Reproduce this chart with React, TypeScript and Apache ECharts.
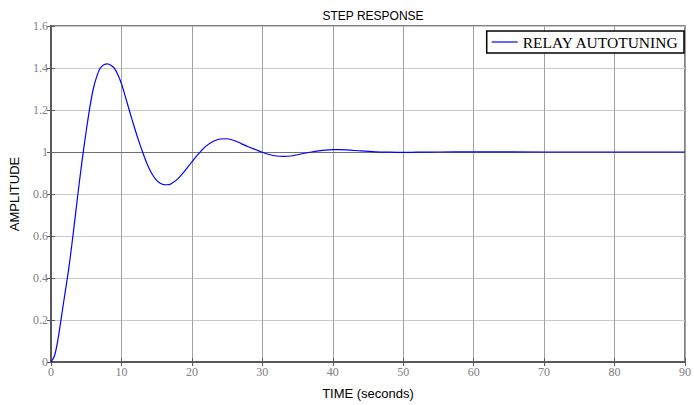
import React, { useEffect, useRef } from "react";
import * as echarts from "echarts";

const timeValues = [0, 0.5, 1, 1.5, 2, 2.5, 3, 3.5, 4, 4.5, 5, 5.5, 6, 6.5, 7, 7.5, 8, 8.5, 9, 9.5, 10, 10.5, 11, 11.5, 12, 12.5, 13, 13.5, 14, 14.5, 15, 15.5, 16, 16.5, 17, 18, 19, 20, 21, 22, 23, 24, 25, 26, 27, 28, 29, 30, 31, 32, 33, 34, 35, 36, 37, 38, 39, 40, 41, 42, 44, 46, 48, 50, 52, 55, 60, 70, 80, 90];
const amplitudeValues = [0, 0.03, 0.11, 0.22, 0.33, 0.44, 0.57, 0.71, 0.85, 0.98, 1.1, 1.21, 1.3, 1.36, 1.4, 1.415, 1.42, 1.413, 1.398, 1.368, 1.325, 1.27, 1.212, 1.155, 1.1, 1.048, 1.0, 0.955, 0.917, 0.887, 0.865, 0.851, 0.845, 0.844, 0.848, 0.872, 0.91, 0.953, 0.993, 1.028, 1.05, 1.062, 1.063, 1.055, 1.04, 1.025, 1.012, 0.999, 0.988, 0.981, 0.979, 0.981, 0.987, 0.994, 1.0, 1.005, 1.009, 1.011, 1.011, 1.01, 1.005, 1.001, 0.999, 0.998, 0.999, 1.0, 1.001, 1.0, 1.0, 1.0];
const seriesName = "RELAY AUTOTUNING";
const titleText = "STEP RESPONSE";
const xAxisName = "TIME (seconds)";
const yAxisName = "AMPLITUDE";
const referenceLevel = 1;

export default function App() {
  const ref = useRef<HTMLDivElement>(null);
  useEffect(() => {
    if (!ref.current) return;
    const chart = echarts.init(ref.current, null, { renderer: "svg" });
    const data = timeValues.map((t, i) => [t, amplitudeValues[i]]);
    const frame = "#5a5a5a";
    const tickStyle = { show: true, inside: true, length: 4, lineStyle: { color: frame, width: 1 } };
    chart.setOption({
      animation: false,
      backgroundColor: "#ffffff",
      title: {
        text: titleText,
        left: 368,
        textAlign: "center",
        top: 5,
        textStyle: { fontFamily: "Liberation Sans, Arial", fontSize: 12, fontWeight: "normal", color: "#000" },
      },
      legend: {
        data: [seriesName],
        right: 10,
        top: 31,
        orient: "horizontal",
        backgroundColor: "#fff",
        borderColor: "#000",
        borderWidth: 1.5,
        borderRadius: 0,
        padding: [3, 5, 3, 5],
        icon: "rect",
        itemWidth: 26,
        itemHeight: 1.2,
        itemGap: 3,
        textStyle: { fontFamily: "Liberation Serif, Times New Roman", fontSize: 15.5, color: "#000" },
      },
      grid: {
        left: 49,
        right: 6,
        top: 26,
        bottom: 41,
        show: true,
        borderColor: frame,
        borderWidth: 1.5,
        containLabel: false,
      },
      xAxis: [
        {
          type: "value",
          min: 0,
          max: 90,
          interval: 10,
          position: "bottom",
          name: xAxisName,
          nameLocation: "middle",
          nameGap: 25,
          nameTextStyle: { fontFamily: "Liberation Sans, Arial", fontSize: 13, color: "#000" },
          axisLine: { show: true, lineStyle: { color: frame, width: 2 } },
          axisTick: tickStyle,
          axisLabel: { fontFamily: "Liberation Serif, Times New Roman", fontSize: 12, color: "#808080", margin: 4 },
          splitLine: { show: true, lineStyle: { color: "#a0a0a0", width: 1 } },
        },
        {
          type: "value",
          min: 0,
          max: 90,
          interval: 10,
          position: "top",
          axisLine: { show: true, lineStyle: { color: frame, width: 1.5 } },
          axisTick: tickStyle,
          axisLabel: { show: false },
          splitLine: { show: false },
        },
      ],
      yAxis: [
        {
          type: "value",
          min: 0,
          max: 1.6,
          interval: 0.2,
          position: "left",
          name: yAxisName,
          nameLocation: "middle",
          nameGap: 30,
          nameTextStyle: { fontFamily: "Liberation Sans, Arial", fontSize: 13, color: "#000" },
          axisLine: { show: true, lineStyle: { color: frame, width: 2 } },
          axisTick: tickStyle,
          axisLabel: {
            fontFamily: "Liberation Serif, Times New Roman",
            fontSize: 12,
            color: "#808080",
            margin: 3,
            formatter: (v: number) => String(Math.round(v * 10) / 10),
          },
          splitLine: { show: true, lineStyle: { color: "#c8c8c8", width: 1 } },
        },
        {
          type: "value",
          min: 0,
          max: 1.6,
          interval: 0.2,
          position: "right",
          axisLine: { show: true, lineStyle: { color: frame, width: 1.5 } },
          axisTick: tickStyle,
          axisLabel: { show: false },
          splitLine: { show: false },
        },
      ],
      series: [
        {
          name: seriesName,
          type: "line",
          data,
          smooth: 0.3,
          showSymbol: false,
          symbol: "none",
          lineStyle: { color: "#0000ff", width: 1.2 },
          itemStyle: { color: "#0000ff" },
          z: 5,
          markLine: {
            silent: true,
            symbol: "none",
            label: { show: false },
            lineStyle: { color: "#707070", width: 1.2, type: "solid" },
            data: [{ yAxis: referenceLevel }],
          },
        },
      ],
    });
    return () => chart.dispose();
  }, []);
  return <div ref={ref} style={{ width: 694, height: 405, position: "absolute", left: 0, top: 0 }} />;
}
